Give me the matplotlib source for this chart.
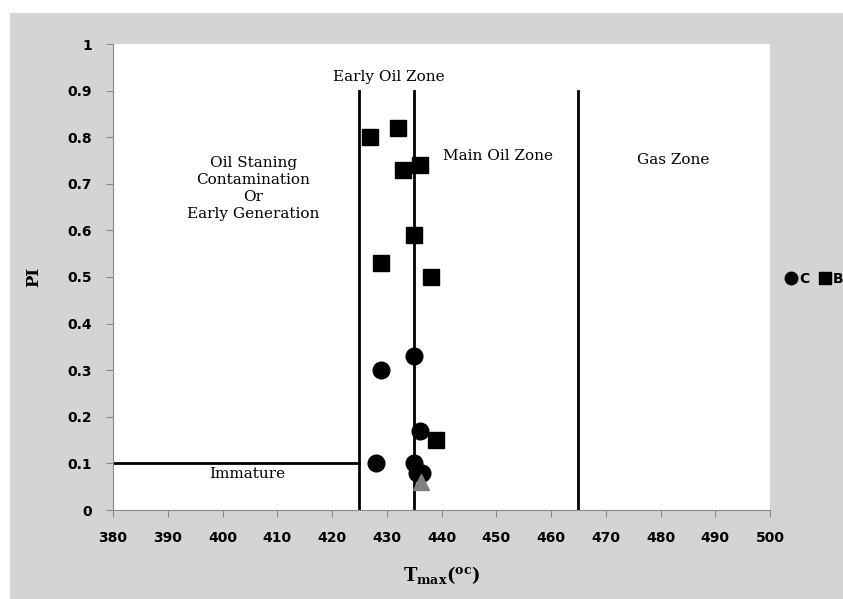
import numpy as np
import matplotlib.pyplot as plt
from matplotlib.patches import Rectangle

# data
tmaxB = [427, 432, 433, 436, 435, 429, 438, 439]
piB = [0.80, 0.82, 0.73, 0.74, 0.59, 0.53, 0.50, 0.15]
tmaxC = [435, 429, 436, 428, 435, 435.5, 436.5]
piC = [0.33, 0.30, 0.17, 0.10, 0.10, 0.08, 0.08]
tmaxA = [436.3]
piA = [0.06]

zoneLines = [425, 435, 465]

plt.rcParams['mathtext.fontset'] = 'dejavuserif'
fig = plt.figure(figsize=(8.43, 5.99), dpi=100)
fig.patches.append(Rectangle((10/843, 0), 1, (599-13)/599, transform=fig.transFigure,
                             facecolor="#d4d4d4", edgecolor="none", zorder=-10))
ax = fig.add_axes([113/843, 89/599, 657/843, 466/599])
ax.set_facecolor("white")

for x in zoneLines:
    ax.plot([x, x], [0, 0.9], "-", color="black", lw=2, zorder=2)
ax.plot([380, 425], [0.1, 0.1], "-", color="black", lw=2, zorder=2)

ax.plot(tmaxC, piC, "o", color="black", ms=12, ls="none", label="C", zorder=3)
ax.plot(tmaxB, piB, "s", color="black", ms=11, ls="none", label="B", zorder=3)
ax.plot(tmaxA, piA, "^", color="#808080", ms=11, ls="none", zorder=4)

serif = "DejaVu Serif"
ax.text(430.4, 0.93, "Early Oil Zone", ha="center", va="center", family=serif, fontsize=11)
ax.text(450.3, 0.76, "Main Oil Zone", ha="center", va="center", family=serif, fontsize=11)
ax.text(482.3, 0.75, "Gas Zone", ha="center", va="center", family=serif, fontsize=11)
ax.text(405.6, 0.69, "Oil Staning\nContamination\nOr\nEarly Generation", ha="center", va="center",
        family=serif, fontsize=11, linespacing=1.25)
ax.text(404.5, 0.077, "Immature", ha="center", va="center", family=serif, fontsize=11)

ax.set_xlim(380, 500)
ax.set_ylim(0, 1)
ax.set_xticks(np.arange(380, 501, 10))
ax.set_yticks(np.arange(0, 1.01, 0.1))
ax.set_yticklabels(["0"] + [f"{v:.1f}" for v in np.arange(0.1, 0.95, 0.1)] + ["1"])
for lab in ax.get_xticklabels() + ax.get_yticklabels():
    lab.set_fontweight("bold")
    lab.set_fontsize(10)
ax.tick_params(direction="out", length=5, color="#888888", pad=10)
ax.spines['right'].set_visible(False)
ax.spines['top'].set_visible(False)
ax.spines['left'].set_color("#888888")
ax.spines['bottom'].set_color("#888888")

ax.set_ylabel("PI", family=serif, fontweight="bold", fontsize=12, labelpad=18)
ax.set_xlabel(r"$\mathbf{T_{max}(^{oc})}$", fontsize=13, labelpad=14)

leg = ax.legend(loc="center left", bbox_to_anchor=(1.002, 0.495), ncol=2, frameon=False,
                handletextpad=0.1, columnspacing=0.6, markerscale=0.75, handlelength=1,
                prop={"weight": "bold", "size": 10})

plt.savefig("out.png", dpi=100)
